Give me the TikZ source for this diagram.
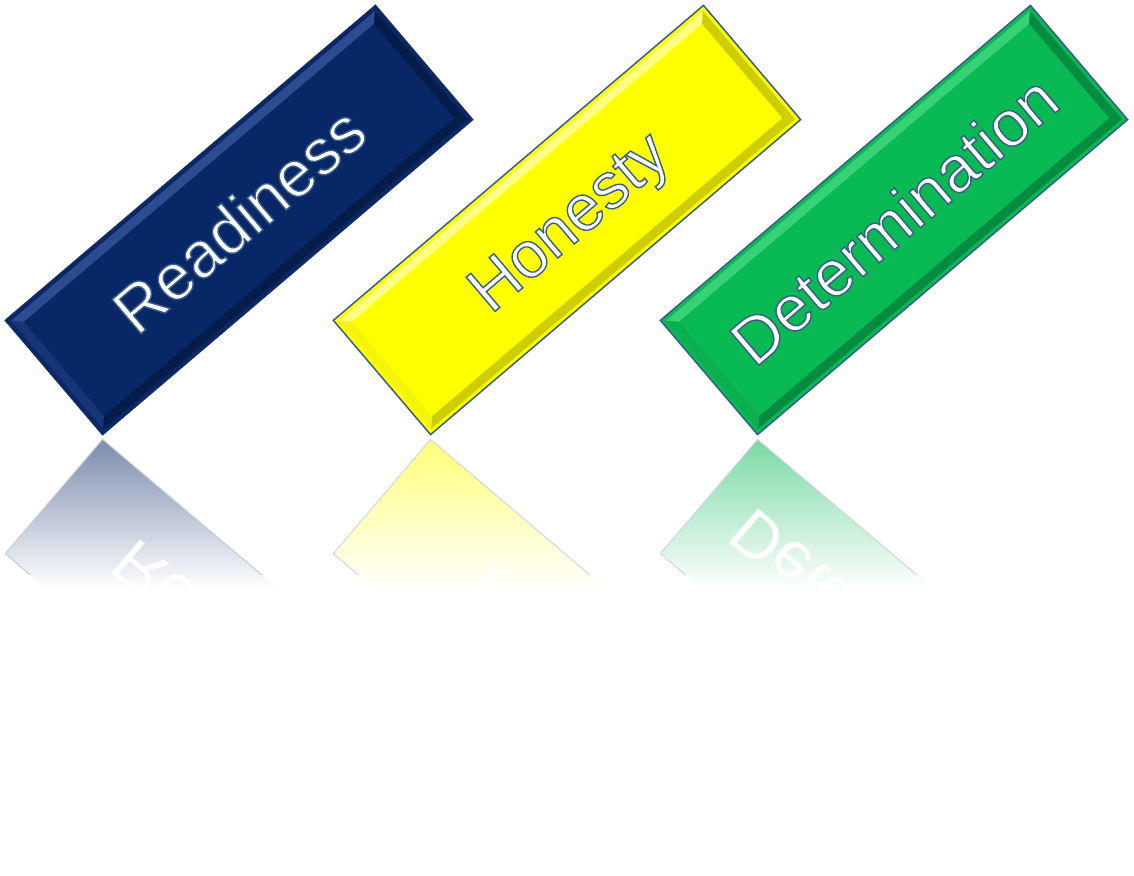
\documentclass[tikz,border=0pt]{standalone}
\usepackage{fontspec}
\setmainfont{Liberation Sans}

\definecolor{facenavy}{RGB}{8,39,102}
\definecolor{lightnavy}{RGB}{45,75,145}
\definecolor{midnavy}{RGB}{22,52,118}
\definecolor{darknavy}{RGB}{6,28,75}
\definecolor{edgenavy}{RGB}{22,44,96}
\definecolor{faceyellow}{RGB}{255,255,0}
\definecolor{lightyellow}{RGB}{255,255,130}
\definecolor{midyellow}{RGB}{245,245,10}
\definecolor{darkyellow}{RGB}{205,205,0}
\definecolor{edgeyellow}{RGB}{56,93,138}
\definecolor{facegreen}{RGB}{8,185,84}
\definecolor{lightgreen}{RGB}{55,210,120}
\definecolor{midgreen}{RGB}{12,175,80}
\definecolor{darkgreen}{RGB}{6,140,64}
\definecolor{edgegreen}{RGB}{56,93,138}

\newcommand{\outlined}[1]{\special{pdf:literal direct 2 Tr 1.4 w 0.22 0.365 0.541 RG}#1\special{pdf:literal direct 0 Tr}}

\tikzset{
	word/.style={text=white, inner sep=0pt, font=\fontsize{65}{76}\selectfont, text height=46pt, text depth=0pt},
}

\begin{document}
\begin{tikzpicture}[x=1pt, y=1pt]
	\useasboundingbox (0,0) rectangle (1134,875);
	\foreach \cx/\c/\w/\nm in {239/navy/Readiness/readiness, 567/yellow/Honesty/honesty, 894/green/Determination/determination}{
		\begin{scope}[shift={(\cx,655)}, rotate=40.4]
			\filldraw[fill=face\c, draw=edge\c, line width=1.5pt] (-243,-75) -- (243,-75) -- (243,75) -- (-243,75) -- cycle;
			\fill[light\c] (-239,71) -- (239,71) -- (230,62) -- (-230,62) -- cycle;
			\fill[dark\c] (-239,-71) -- (239,-71) -- (230,-62) -- (-230,-62) -- cycle;
			\fill[dark\c] (239,71) -- (239,-71) -- (230,-62) -- (230,62) -- cycle;
			\fill[mid\c] (-239,71) -- (-239,-71) -- (-230,-62) -- (-230,62) -- cycle;
		\end{scope}
		\node[word, rotate=40.4] (\nm) at (\cx,655) {\outlined{\w}};
	
		\begin{scope}[shift={(\cx,221)}, rotate=-40.4]
			\coordinate (\nm-a) at (-243,-75);
			\coordinate (\nm-b) at (243,-75);
			\coordinate (\nm-c) at (243,75);
			\coordinate (\nm-d) at (-243,75);
		\end{scope}
		\begin{scope}
			\clip (\nm-a) -- (\nm-b) -- (\nm-c) -- (\nm-d) -- cycle;
			\shade[top color=face\c!55!white, bottom color=white] (\cx-260,285) rectangle (\cx+260,440);
			\node[word, rotate=-40.4, yscale=-1] (\nm-mirror) at (\cx,221) {\w};
		\end{scope}
		\begin{scope}
			\clip (\cx-260,300) rectangle (\cx+260,440);
			\draw[edge\c!25!white, line width=1pt] (\nm-a) -- (\nm-b) -- (\nm-c) -- (\nm-d) -- cycle;
		\end{scope}
	}
\end{tikzpicture}
\end{document}
